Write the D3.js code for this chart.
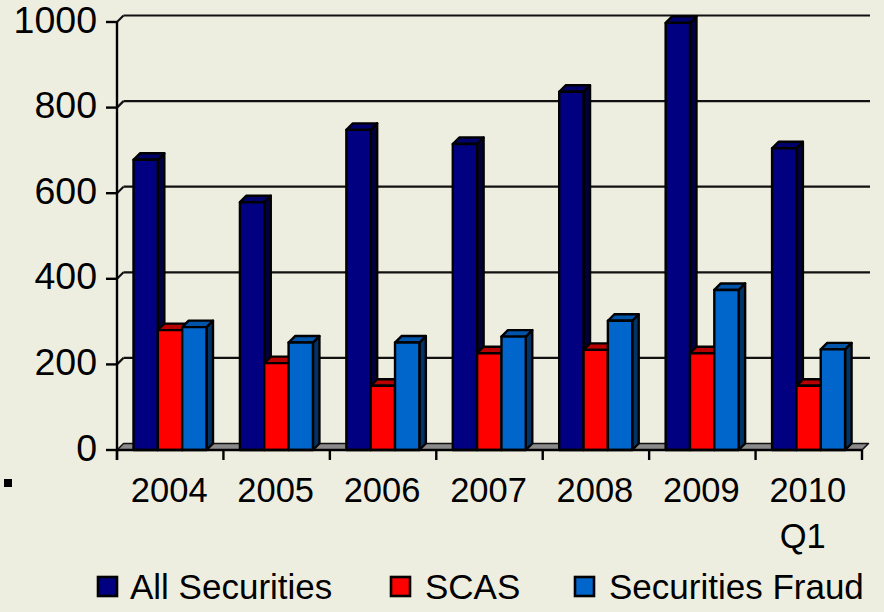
<!DOCTYPE html>
<html>
<head>
<meta charset="utf-8">
<script src="https://cdn.jsdelivr.net/npm/d3@7"></script>
<style>
  body { margin: 0; background: #eeeee0; }
  svg { display: block; font-family: "Liberation Sans", Arial, sans-serif; }
</style>
</head>
<body>
<div id="graph"></div>
<script>
// chart data
var categories = ["2004", "2005", "2006", "2007", "2008", "2009", "2010"];
var subLabels = ["", "", "", "", "", "", "Q1"];
var seriesNames = ["All Securities", "SCAS", "Securities Fraud"];
var allSecurities = [678, 579, 748, 715, 837, 998, 705];
var scas = [280, 203, 150, 226, 234, 226, 150];
var securitiesFraud = [287, 251, 251, 265, 302, 374, 235];
var yTicks = [0, 200, 400, 600, 800, 1000];

var width = 884, height = 612;
var dx = 6.5, dy = -6.5; // 3d depth offset

var colors = {
	"All Securities": {front: "#000080", top: "#00006a", side: "#00003e"},
	"SCAS": {front: "#ff0000", top: "#b80000", side: "#800000"},
	"Securities Fraud": {front: "#0066cc", top: "#0055aa", side: "#003366"}
};

var svg = d3.select('#graph')
	.append('svg')
	.attr('width', width)
	.attr('height', height);

svg.append('rect').attr('width', width).attr('height', height).attr('fill', '#eeeee0');

var x0 = d3.scaleBand().domain(categories).range([117, 862]);
var x1 = d3.scaleBand().domain(seriesNames).range([16.5, 16.5 + 73]);
var y = d3.scaleLinear().domain([0, 1000]).range([450, 22]);

var rows = categories.map(function(c, i) {
	return {cat: c, sub: subLabels[i], vals: [allSecurities[i], scas[i], securitiesFraud[i]]};
});

// back wall gridlines
var grid = svg.append('g').attr('id', 'grid');
grid.selectAll('line.g')
	.data(yTicks.filter(function(d) { return d > 0; }))
	.enter().append('line')
	.attr('x1', 117 + dx).attr('x2', 870)
	.attr('y1', function(d) { return y(d) + dy; })
	.attr('y2', function(d) { return y(d) + dy; })
	.attr('stroke', '#111').attr('stroke-width', 2.2);
grid.selectAll('line.d')
	.data(yTicks.filter(function(d) { return d > 0; }))
	.enter().append('line')
	.attr('x1', 117).attr('x2', 117 + dx)
	.attr('y1', function(d) { return y(d); })
	.attr('y2', function(d) { return y(d) + dy; })
	.attr('stroke', '#111').attr('stroke-width', 2.2);

// floor
var x0L = x0.range()[0], x0R = x0.range()[1];
svg.append('path')
	.attr('d', 'M' + x0L + ',' + y(0) + 'L' + x0R + ',' + y(0) + 'L' + (x0R + dx) + ',' + (y(0) + dy) +
		'L' + (x0L + dx) + ',' + (y(0) + dy) + 'Z')
	.attr('fill', '#8a8a8a').attr('stroke', '#111').attr('stroke-width', 1.5)
	.attr('stroke-linejoin', 'round');

// bars
var bw = x1.bandwidth();
var groups = svg.append('g').attr('id', 'bars')
	.selectAll('g')
	.data(rows)
	.enter().append('g')
	.attr('transform', function(d) { return 'translate(' + x0(d.cat) + ',0)'; });

groups.each(function(d) {
	var g = d3.select(this);
	d.vals.forEach(function(v, k) {
		var name = seriesNames[k];
		var c = colors[name];
		var xl = x1(name), xr = xl + bw, yt = y(v), yb = y(0);
		var b = g.append('g');
		b.append('path')
			.attr('d', 'M' + xr + ',' + yt + 'L' + (xr + dx) + ',' + (yt + dy) + 'L' + (xr + dx) + ',' + (yb + dy) + 'L' + xr + ',' + yb + 'Z')
			.attr('fill', c.side);
		b.append('path')
			.attr('d', 'M' + xl + ',' + yt + 'L' + (xl + dx) + ',' + (yt + dy) + 'L' + (xr + dx) + ',' + (yt + dy) + 'L' + xr + ',' + yt + 'Z')
			.attr('fill', c.top);
		b.append('rect')
			.attr('x', xl).attr('y', yt)
			.attr('width', bw).attr('height', yb - yt)
			.attr('fill', c.front);
		b.selectAll('path, rect')
			.attr('stroke', '#000').attr('stroke-width', 2.4).attr('stroke-linejoin', 'round');
	});
});

// y axis
svg.append('line')
	.attr('x1', 117).attr('x2', 117).attr('y1', y(1000)).attr('y2', 460)
	.attr('stroke', '#000').attr('stroke-width', 2.4);
svg.append('g').selectAll('line')
	.data(yTicks).enter().append('line')
	.attr('x1', 106).attr('x2', 117)
	.attr('y1', function(d) { return y(d); }).attr('y2', function(d) { return y(d); })
	.attr('stroke', '#000').attr('stroke-width', 2.4);
svg.append('g').selectAll('text')
	.data(yTicks).enter().append('text')
	.attr('x', 97).attr('y', function(d) { return y(d) + 10.5; })
	.attr('text-anchor', 'end')
	.attr('font-size', '37.5px')
	.text(function(d) { return d; });

// x axis
svg.append('line')
	.attr('x1', x0L).attr('x2', x0R).attr('y1', y(0)).attr('y2', y(0))
	.attr('stroke', '#000').attr('stroke-width', 2.6);
svg.append('g').selectAll('line')
	.data(d3.range(categories.length + 1)).enter().append('line')
	.attr('x1', function(i) { return x0L + i * x0.step(); })
	.attr('x2', function(i) { return x0L + i * x0.step(); })
	.attr('y1', y(0)).attr('y2', 460)
	.attr('stroke', '#000').attr('stroke-width', 2.4);
var xl = svg.append('g').selectAll('text')
	.data(rows).enter().append('text')
	.attr('x', function(d) { return x0(d.cat) + x0.bandwidth() / 2 - 1; })
	.attr('y', 502)
	.attr('text-anchor', 'middle')
	.attr('font-size', '34.5px');
xl.append('tspan').text(function(d) { return d.cat; });
xl.append('tspan')
	.attr('x', function(d) { return x0(d.cat) + x0.bandwidth() / 2 - 6; })
	.attr('dy', 46)
	.text(function(d) { return d.sub; });

// stray bullet mark
svg.append('rect').attr('x', 4).attr('y', 479).attr('width', 8).attr('height', 8).attr('fill', '#000');

// legend
var legendX = [97, 390, 574];
var legend = svg.append('g').selectAll('g')
	.data(seriesNames).enter().append('g')
	.attr('transform', function(d, i) { return 'translate(' + legendX[i] + ',576)'; });
legend.append('rect')
	.attr('x', 1).attr('y', 1).attr('width', 19).attr('height', 19)
	.attr('fill', function(d) { return colors[d].front; })
	.attr('stroke', '#000').attr('stroke-width', 2.6);
legend.append('text')
	.attr('x', function(d, i) { return i == 0 ? 33 : 35; })
	.attr('y', 22.5)
	.attr('font-size', '35px')
	.text(function(d) { return d; });
</script>
</body>
</html>
